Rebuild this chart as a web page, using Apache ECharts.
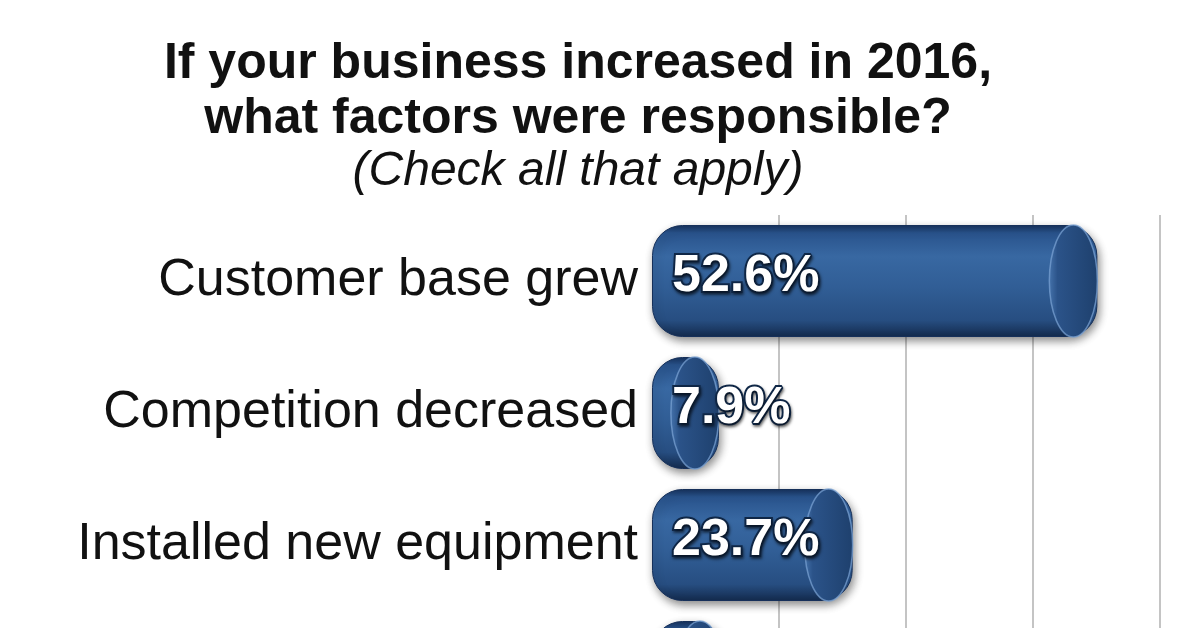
<!DOCTYPE html>
<html>
<head>
<meta charset="utf-8">
<script src="https://cdn.jsdelivr.net/npm/echarts@6/dist/echarts.min.js"></script>
<style>
html,body{margin:0;padding:0;background:#fff;}
#chart{width:1200px;height:628px;}
</style>
</head>
<body>
<div id="chart"></div>
<script>
// ---- data ----
const titleLines = ['If your business increased in 2016,', 'what factors were responsible?'];
const subtitle = '(Check all that apply)';
const categories = ['Customer base grew', 'Competition decreased', 'Installed new equipment', ''];
const values = [52.6, 7.9, 23.7, 8.5];
const axisMax = 60;
const axisInterval = 15;

// ---- styles ----
const FONT = '"Liberation Sans", Arial, sans-serif';
const BAR_W = 112;
const CAP_RX = 24;
const TITLE_X = 578;

const chart = echarts.init(document.getElementById('chart'), null, {renderer: 'canvas'});

const bodyGradient = new echarts.graphic.LinearGradient(0, 0, 0, 1, [
  {offset: 0, color: '#15305a'},
  {offset: 0.07, color: '#29538c'},
  {offset: 0.28, color: '#3868a2'},
  {offset: 0.55, color: '#315e96'},
  {offset: 0.85, color: '#274e81'},
  {offset: 1, color: '#132a4d'}
]);
const capGradient = new echarts.graphic.LinearGradient(0, 0, 1, 0, [
  {offset: 0, color: '#4674ad'},
  {offset: 0.18, color: '#2b5389'},
  {offset: 1, color: '#1e406d'}
]);

function renderCap(params, api) {
  const v = api.value(0);
  const idx = api.value(1);
  const end = api.coord([v, idx]);
  const start = api.coord([0, idx]);
  const ry = BAR_W / 2;
  const cx = end[0] - CAP_RX;
  const cy = end[1];
  return {
    type: 'group',
    children: [
      {
        type: 'path',
        shape: {
          pathData: 'M0,1 A1,1 0 1,0 2,1 A1,1 0 1,0 0,1 Z',
          x: cx - CAP_RX, y: cy - ry, width: 2 * CAP_RX, height: 2 * ry, layout: 'cover'
        },
        style: {fill: capGradient, stroke: 'rgba(120,160,210,0.75)', lineWidth: 1.5}
      },
      {
        type: 'text',
        x: start[0] + 20,
        y: cy - 4,
        style: {
          text: v.toFixed(1) + '%',
          font: 'bold 52px ' + FONT,
          fill: '#ffffff',
          stroke: '#0f2747',
          lineWidth: 4,
          strokeFirst: true,
          align: 'left', textAlign: 'left',
          verticalAlign: 'middle', textVerticalAlign: 'middle',
          textShadowColor: 'rgba(0,0,0,0.5)', textShadowBlur: 3, textShadowOffsetX: 1, textShadowOffsetY: 2
        }
      }
    ]
  };
}

function titleText(text, y, font) {
  return {
    type: 'text', x: TITLE_X, y: y,
    style: {text: text, font: font, fill: '#111', align: 'center', textAlign: 'center',
      verticalAlign: 'middle', textVerticalAlign: 'middle'}
  };
}

const option = {
  backgroundColor: '#ffffff',
  animation: false,
  graphic: [
    titleText(titleLines[0], 64, 'bold 50px ' + FONT),
    titleText(titleLines[1], 119, 'bold 50px ' + FONT),
    titleText(subtitle, 172, 'italic 48px ' + FONT)
  ],
  grid: {left: 652, width: 508, top: 215, height: 528, containLabel: false, outerBoundsMode: 'none'},
  xAxis: {
    type: 'value', min: 0, max: axisMax, interval: axisInterval,
    axisLabel: {show: false}, axisLine: {show: false}, axisTick: {show: false},
    splitLine: {show: true, showMinLine: false, lineStyle: {color: '#c4c4c4', width: 2}}
  },
  yAxis: {
    type: 'category', data: categories, inverse: true,
    axisLine: {show: false}, axisTick: {show: false},
    axisLabel: {margin: 14, fontSize: 52, fontFamily: FONT, color: '#111', padding: [0, 0, 20, 0]}
  },
  series: [
    {
      type: 'bar',
      data: values,
      barWidth: BAR_W,
      z: 2,
      itemStyle: {
        color: bodyGradient,
        borderRadius: 30,
        borderColor: '#16305a',
        borderWidth: 1,
        shadowColor: 'rgba(0,0,0,0.45)',
        shadowBlur: 8,
        shadowOffsetX: 2,
        shadowOffsetY: 4
      }
    },
    {
      type: 'custom',
      z: 3,
      renderItem: renderCap,
      encode: {x: 0, y: 1},
      data: values.map((v, i) => [v, i])
    }
  ]
};
chart.setOption(option);
</script>
</body>
</html>
